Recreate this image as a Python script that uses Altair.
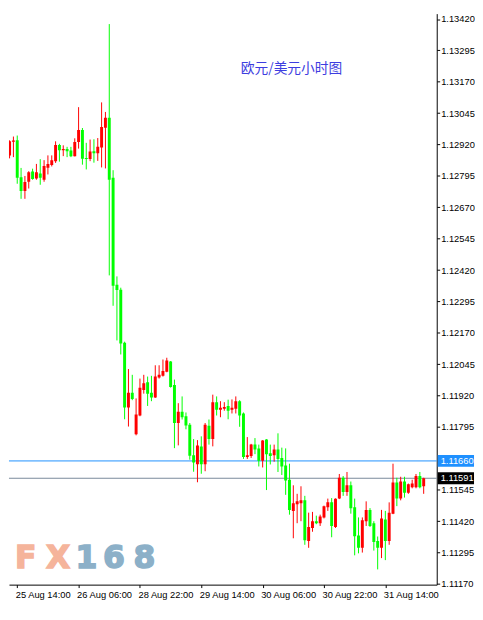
import altair as alt
import numpy as np
import pandas as pd

# ---- data (EUR/USD hourly candles) ----
opens = [1.12877, 1.12931, 1.12937, 1.12790, 1.12735, 1.12772, 1.12813, 1.12785, 1.12805, 1.12780,
         1.12828, 1.12839, 1.12854, 1.12918, 1.12897, 1.12902, 1.12896, 1.12874, 1.12930, 1.12978,
         1.12867, 1.12863, 1.12893, 1.12885, 1.12908, 1.12987, 1.13027, 1.12788, 1.12362, 1.12342,
         1.12131, 1.11873, 1.11932, 1.11766, 1.11841, 1.11943, 1.11973, 1.11932, 1.11913, 1.11992,
         1.11999, 1.12015, 1.12056, 1.11962, 1.11811, 1.11856, 1.11838, 1.11804, 1.11683, 1.11647,
         1.11717, 1.11647, 1.11800, 1.11747, 1.11894, 1.11864, 1.11868, 1.11879, 1.11864, 1.11868,
         1.11898, 1.11849, 1.11676, 1.11680, 1.11725, 1.11710, 1.11661, 1.11745, 1.11691, 1.11683,
         1.11706, 1.11672, 1.11642, 1.11585, 1.11461, 1.11487, 1.11491, 1.11503, 1.11341, 1.11393,
         1.11420, 1.11412, 1.11435, 1.11476, 1.11495, 1.11397, 1.11510, 1.11593, 1.11536, 1.11563,
         1.11476, 1.11363, 1.11314, 1.11420, 1.11465, 1.11412, 1.11341, 1.11314, 1.11427, 1.11341,
         1.11450, 1.11574, 1.11510, 1.11578, 1.11533, 1.11555, 1.11555, 1.11600, 1.11559]
highs = [1.12937, 1.12952, 1.12956, 1.12827, 1.12795, 1.12814, 1.12824, 1.12843, 1.12862, 1.12858,
         1.12877, 1.12877, 1.12933, 1.12923, 1.12917, 1.12911, 1.12911, 1.12945, 1.13069, 1.12986,
         1.12927, 1.12940, 1.12941, 1.12946, 1.13088, 1.13050, 1.13400, 1.12818, 1.12395, 1.12350,
         1.12135, 1.12026, 1.12003, 1.11909, 1.11988, 1.12003, 1.11996, 1.11999, 1.12041, 1.12041,
         1.12064, 1.12071, 1.12058, 1.11984, 1.11890, 1.11917, 1.11853, 1.11811, 1.11747, 1.11743,
         1.11758, 1.11811, 1.11825, 1.11924, 1.11917, 1.11898, 1.11894, 1.11904, 1.11905, 1.11917,
         1.11902, 1.11853, 1.11755, 1.11728, 1.11751, 1.11725, 1.11743, 1.11747, 1.11725, 1.11725,
         1.11770, 1.11713, 1.11710, 1.11649, 1.11563, 1.11529, 1.11559, 1.11521, 1.11454, 1.11457,
         1.11442, 1.11446, 1.11482, 1.11510, 1.11512, 1.11511, 1.11608, 1.11600, 1.11616, 1.11578,
         1.11510, 1.11435, 1.11435, 1.11499, 1.11472, 1.11420, 1.11359, 1.11465, 1.11461, 1.11495,
         1.11649, 1.11593, 1.11597, 1.11597, 1.11570, 1.11585, 1.11608, 1.11616, 1.11593]
lows = [1.12865, 1.12870, 1.12764, 1.12704, 1.12704, 1.12745, 1.12780, 1.12780, 1.12760, 1.12772,
        1.12801, 1.12833, 1.12847, 1.12852, 1.12874, 1.12870, 1.12870, 1.12873, 1.12904, 1.12840,
        1.12821, 1.12854, 1.12848, 1.12855, 1.12829, 1.12825, 1.12399, 1.12278, 1.12140, 1.12084,
        1.11826, 1.11797, 1.11902, 1.11762, 1.11838, 1.11928, 1.11879, 1.11898, 1.11911, 1.11988,
        1.11996, 1.12013, 1.11952, 1.11711, 1.11722, 1.11825, 1.11786, 1.11665, 1.11617, 1.11575,
        1.11609, 1.11619, 1.11725, 1.11718, 1.11841, 1.11834, 1.11860, 1.11826, 1.11849, 1.11849,
        1.11796, 1.11668, 1.11668, 1.11672, 1.11687, 1.11638, 1.11634, 1.11544, 1.11646, 1.11657,
        1.11616, 1.11604, 1.11525, 1.11446, 1.11352, 1.11412, 1.11420, 1.11326, 1.11314, 1.11378,
        1.11408, 1.11401, 1.11431, 1.11461, 1.11356, 1.11393, 1.11508, 1.11521, 1.11521, 1.11450,
        1.11284, 1.11292, 1.11295, 1.11401, 1.11397, 1.11303, 1.11228, 1.11273, 1.11265, 1.11326,
        1.11448, 1.11480, 1.11503, 1.11514, 1.11529, 1.11551, 1.11551, 1.11551, 1.11529]
closes = [1.12933, 1.12936, 1.12788, 1.12735, 1.12771, 1.12810, 1.12783, 1.12810, 1.12788, 1.12835,
          1.12843, 1.12858, 1.12918, 1.12897, 1.12902, 1.12893, 1.12874, 1.12930, 1.12978, 1.12864,
          1.12863, 1.12892, 1.12885, 1.12911, 1.12990, 1.13027, 1.12780, 1.12358, 1.12341, 1.12128,
          1.11873, 1.11932, 1.11907, 1.11845, 1.11951, 1.11969, 1.11928, 1.11913, 1.11996, 1.12003,
          1.12018, 1.12060, 1.11954, 1.11811, 1.11856, 1.11834, 1.11801, 1.11681, 1.11654, 1.11721,
          1.11647, 1.11804, 1.11747, 1.11894, 1.11864, 1.11872, 1.11875, 1.11860, 1.11872, 1.11898,
          1.11841, 1.11676, 1.11683, 1.11725, 1.11706, 1.11661, 1.11741, 1.11687, 1.11680, 1.11706,
          1.11668, 1.11638, 1.11582, 1.11465, 1.11491, 1.11499, 1.11503, 1.11344, 1.11397, 1.11420,
          1.11412, 1.11439, 1.11480, 1.11495, 1.11401, 1.11509, 1.11593, 1.11536, 1.11563, 1.11472,
          1.11360, 1.11314, 1.11424, 1.11465, 1.11401, 1.11337, 1.11314, 1.11431, 1.11341, 1.11454,
          1.11574, 1.11510, 1.11578, 1.11533, 1.11567, 1.11570, 1.11600, 1.11555, 1.11591]

tick_bars = [3, 19, 35, 51, 67, 83, 99]
tick_labels = ["25 Aug 14:00", "26 Aug 06:00", "28 Aug 22:00", "29 Aug 14:00",
               "30 Aug 06:00", "30 Aug 22:00", "31 Aug 14:00"]
price_ticks = [1.11170, 1.11295, 1.11420, 1.11545, 1.11795, 1.11920, 1.12045, 1.12170,
               1.12295, 1.12420, 1.12545, 1.12670, 1.12795, 1.12920, 1.13045, 1.13170,
               1.13295, 1.13420]
alert_level = 1.11660
bid_level = 1.11591
title_text = "欧元/美元小时图"

# ---- layout ----
W, H = 436, 582
y_lo, y_hi = 1.111673, 1.134415
x_lo, x_hi = 2.125, 111.125
one_px = (y_hi - y_lo) / H
FONT = "Liberation Sans"

df = pd.DataFrame({"bar": np.arange(1, len(opens) + 1), "open": opens, "high": highs,
                   "low": lows, "close": closes})
df["dir"] = np.where(df["close"] >= df["open"], "up", "down")
df["top"] = df[["open", "close"]].max(axis=1)
df["bot"] = np.minimum(df[["open", "close"]].min(axis=1), df["top"] - one_px)

label_expr = " : ".join(f"datum.value == {b} ? '{t}'" for b, t in zip(tick_bars, tick_labels)) + " : ''"

x_scale = alt.Scale(domain=[x_lo, x_hi], nice=False, zero=False)
y_scale = alt.Scale(domain=[y_lo, y_hi], nice=False, zero=False)
color = alt.Color("dir:N", scale=alt.Scale(domain=["up", "down"], range=["#ff0000", "#00ff00"]),
                  legend=None)

x_axis = alt.Axis(orient="bottom", values=tick_bars, labelExpr=label_expr, title=None, grid=False,
                  labelAlign="left", labelOffset=-2, labelPadding=2, tickSize=3,
                  labelFont=FONT, labelFontSize=9.5, labelColor="black", tickColor="black",
                  domainColor="black", labelFlush=False, labelOverlap=False, labelBound=False)
y_axis = alt.Axis(orient="right", values=price_ticks, format=".5f", title=None, grid=False,
                  tickSize=3, labelPadding=1, labelFont=FONT, labelFontSize=9.5,
                  labelColor="black", tickColor="black", domainColor="black",
                  labelFlush=False, labelOverlap=False)

X = lambda f: alt.X(f, scale=x_scale, axis=x_axis)
Y = lambda f: alt.Y(f, scale=y_scale, axis=y_axis)

base = alt.Chart(df)

wicks = base.mark_rule(strokeWidth=1, clip=True).encode(
    x=X("bar:Q"), y=Y("low:Q"), y2="high:Q", color=color,
)
bodies = base.mark_bar(size=3, clip=True).encode(
    x=X("bar:Q"), y=Y("bot:Q"), y2="top:Q", color=color,
)


def hline(level, col):
    return alt.Chart(pd.DataFrame({"level": [level]})).mark_rule(strokeWidth=1, color=col).encode(
        y=Y("level:Q")
    )


def tag(level, bg):
    d = pd.DataFrame({"level": [level]})
    box = alt.Chart(d).transform_calculate(
        t=f"datum.level + {6 * one_px}", b=f"datum.level - {6 * one_px}"
    ).mark_rect(color=bg).encode(
        x=alt.value(W + 1), x2=alt.value(W + 38),
        y=Y("t:Q"), y2="b:Q",
    )
    txt = alt.Chart(d).mark_text(align="left", baseline="middle", color="white", font=FONT,
                                 fontSize=9.5).encode(
        x=alt.value(W + 4),
        y=Y("level:Q"),
        text=alt.Text("level:Q", format=".5f"),
    )
    return [box, txt]


title = alt.Chart(pd.DataFrame({"t": [title_text]})).mark_text(
    font="Noto Sans CJK SC", fontSize=14, color="#3d3de0", align="center", baseline="middle"
).encode(text="t:N", x=alt.value(288), y=alt.value(57))

wm_layers = []
for ch, cx, col in [("F", 17, "#f5b49b"), ("X", 50, "#f5b49b"), ("1", 79, "#8cb0c8"),
                    ("6", 107, "#8cb0c8"), ("8", 138, "#8cb0c8")]:
    wm_layers.append(
        alt.Chart(pd.DataFrame({"c": [ch]})).mark_text(
            font="DejaVu Sans", fontWeight="bold", fontSize=32, color=col,
            stroke=col, strokeWidth=1.5, align="center", baseline="alphabetic"
        ).encode(text="c:N", x=alt.value(cx), y=alt.value(565))
    )

chart = alt.layer(
    *wm_layers,
    hline(alert_level, "#1e90ff"),
    hline(bid_level, "#778899"),
    wicks,
    bodies,
    title,
    *tag(alert_level, "#1e90ff"),
    *tag(bid_level, "#000000"),
).properties(
    width=W, height=H, padding=0, background="white"
).configure_view(strokeWidth=0)

chart.save("out.html", embed_options={"renderer": "svg", "actions": False})
